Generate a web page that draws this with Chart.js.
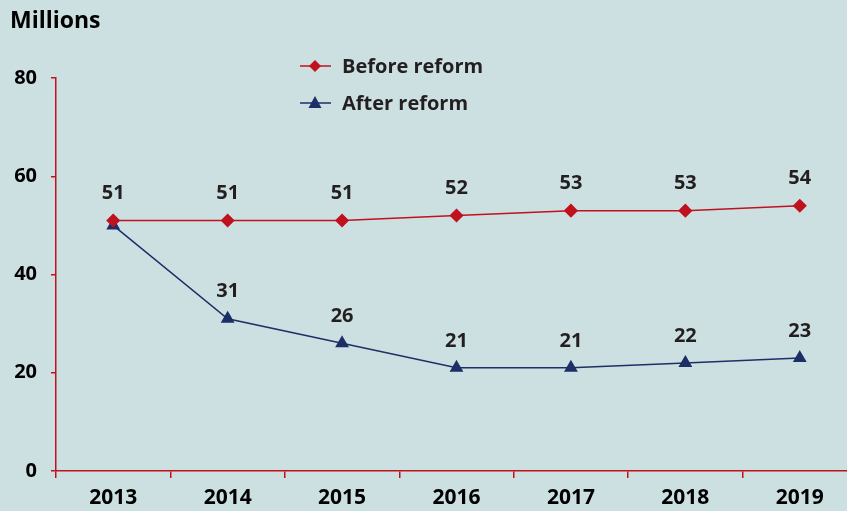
<!DOCTYPE html>
<html><head><meta charset="utf-8">
<script src="https://cdn.jsdelivr.net/npm/chart.js@4/dist/chart.umd.min.js"></script>
<style>html,body{margin:0;padding:0;background:#cde0e1;overflow:hidden;}#wrap{width:847px;height:511px;position:relative;overflow:hidden;}</style>
</head><body><div id="wrap"><canvas id="c" width="865" height="511"></canvas></div>
<script>
const years = ['2013','2014','2015','2016','2017','2018','2019'];
const beforeReform = [51, 51, 51, 52, 53, 53, 54];
const afterReform = [50, 31, 26, 21, 21, 22, 23];
const yTicks = [0, 20, 40, 60, 80];
const unitLabel = 'Millions';
const seriesNames = ['Before reform', 'After reform'];

const RED = '#c0111f', NAVY = '#1c2f66', TXT = '#231f20';
const FONT = '"Open Sans", "Noto Sans", sans-serif';

const bg = {id:'bg', beforeDraw(ch){const c=ch.ctx;c.save();c.fillStyle='#cde0e1';c.fillRect(0,0,ch.width,ch.height);c.restore();}};
const labels = {id:'labels', afterDatasetsDraw(ch){
  const c=ch.ctx; c.save(); c.font='bold 20px '+FONT; c.fillStyle=TXT; c.textAlign='center'; c.textBaseline='middle';
  ch.data.datasets.forEach((ds,di)=>{const m=ch.getDatasetMeta(di);
    m.data.forEach((p,i)=>{ if(di===1 && i===0) return; c.fillText(String(ds.data[i]), p.x, p.y-27);});});
  c.textAlign='left'; c.font='bold 23px '+FONT; c.fillStyle='#000'; c.fillText(unitLabel, 10, 21);
  const items=[[0,66],[1,103]];
  items.forEach(([di,y])=>{const ds=ch.data.datasets[di];
    c.strokeStyle=ds.borderColor; c.lineWidth=1.5; c.beginPath(); c.moveTo(300,y); c.lineTo(331,y); c.stroke();
    c.fillStyle=ds.pointBackgroundColor; c.beginPath();
    if(di===0){c.moveTo(315,y-6);c.lineTo(321,y);c.lineTo(315,y+6);c.lineTo(309,y);}
    else{c.moveTo(315,y-7);c.lineTo(321.5,y+5);c.lineTo(308.5,y+5);}
    c.closePath(); c.fill();
    c.fillStyle=TXT; c.font='bold 20px '+FONT; c.textAlign='left'; c.fillText(ds.label, 342, y+1);});
  c.restore();
}};

new Chart(document.getElementById('c'), {
  type:'line',
  data:{labels:years, datasets:[
    {label:seriesNames[0], data:beforeReform, borderColor:RED, backgroundColor:RED, pointBackgroundColor:RED, pointBorderColor:RED, borderWidth:1.5, pointStyle:'rectRot', pointRadius:6, pointHoverRadius:6},
    {label:seriesNames[1], data:afterReform, borderColor:NAVY, backgroundColor:NAVY, pointBackgroundColor:NAVY, pointBorderColor:NAVY, borderWidth:1.5, pointStyle:'triangle', pointRadius:6.5, pointHoverRadius:6.5}
  ]},
  options:{
    responsive:false, animation:false, devicePixelRatio:1,
    layout:{padding:{left:0, right:0, top:78, bottom:0}},
    plugins:{legend:{display:false}, tooltip:{enabled:false}},
    scales:{
      x:{type:'category', offset:true,
        grid:{offset:true, drawOnChartArea:false, color:RED, tickLength:7, lineWidth:1.5},
        border:{color:RED, width:1.5},
        ticks:{color:'#000', font:{family:FONT, weight:'bold', size:21}, padding:7, maxRotation:0},
        afterFit(a){a.height=40;}},
      y:{min:0, max:80, afterBuildTicks(a){a.ticks=yTicks.map(v=>({value:v}));},
        grid:{drawOnChartArea:false, color:RED, tickLength:5, lineWidth:1.5},
        border:{color:RED, width:1.5},
        ticks:{color:'#000', font:{family:FONT, weight:'bold', size:20}, padding:14},
        afterFit(a){a.width=56;}}
    }
  },
  plugins:[bg, labels]
});
</script></body></html>
